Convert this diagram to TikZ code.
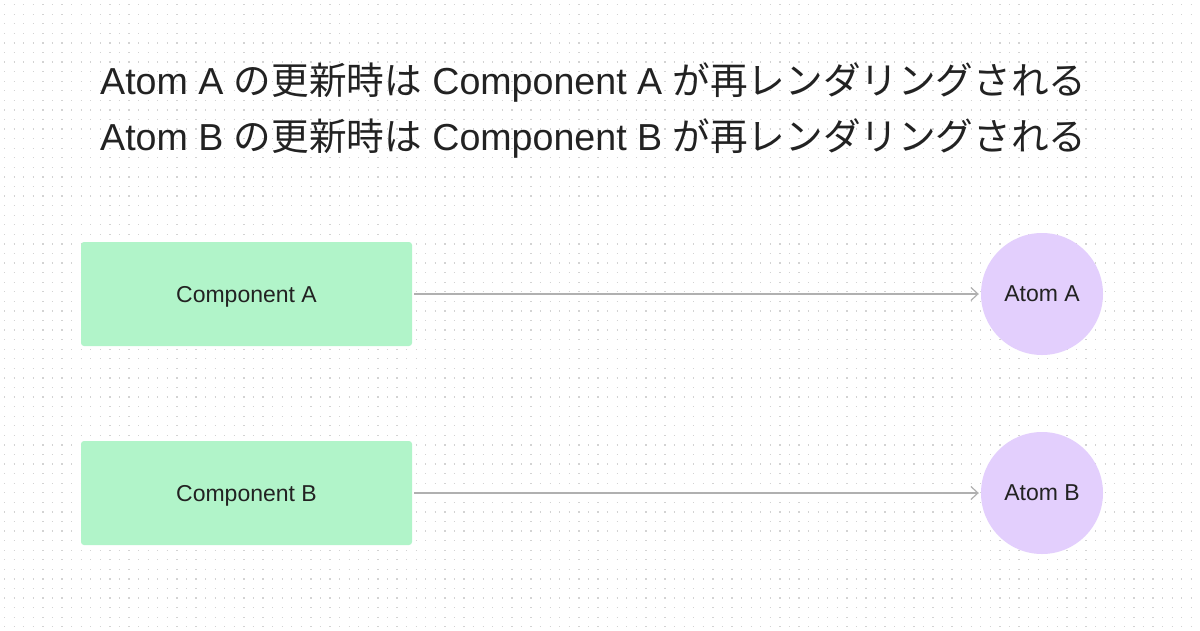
\documentclass[tikz,border=0pt]{standalone}
\usepackage{fontspec}
\setmainfont{Liberation Sans}
\newfontfamily\jp{Noto Sans CJK JP}
\usetikzlibrary{arrows.meta}
\definecolor{gridgray}{HTML}{D3D3D3}
\definecolor{mint}{HTML}{B1F4C9}
\definecolor{lilac}{HTML}{E3CFFD}
\definecolor{edgegray}{HTML}{B0B0B0}
\definecolor{ink}{HTML}{222222}
\tikzset{
  compbox/.style={rectangle, fill=mint, rounded corners=3pt, minimum width=331pt, minimum height=104pt, inner sep=0pt, text=ink, text depth=0pt, font=\fontsize{23}{23}\selectfont},
  atomnode/.style={circle, fill=lilac, minimum size=122pt, inner sep=0pt, text=ink, text depth=0pt, font=\fontsize{23}{23}\selectfont},
  link/.style={draw=edgegray, line width=1.2pt, shorten <=2pt, shorten >=2pt, -{Straight Barb[length=7pt,width=13pt]}},
  title/.style={anchor=base west, inner sep=0pt, text=ink, font=\fontsize{37.6}{37.6}\selectfont},
  dotrow/.style={draw=gridgray, line width=1.3pt, dash pattern=on 1.3pt off 8.27pt}
}
\begin{document}
\begin{tikzpicture}[x=1pt,y=-1pt]
\useasboundingbox (0,0) rectangle (1200,630);
\fill[white] (0,0) rectangle (1200,630);
\foreach \j in {0,...,65}{
  \draw[dotrow] (4.05,{4.7+9.57*\j}) -- (1200,{4.7+9.57*\j});
}
\node[title] (t1) at (100,94) {Atom A {\jp の更新時は} Component A {\jp が再レンダリングされる}};
\node[title] (t2) at (100,150) {Atom B {\jp の更新時は} Component B {\jp が再レンダリングされる}};
\node[compbox] (ca) at (246.5,294) {Component A};
\node[compbox] (cb) at (246.5,493) {Component B};
\node[atomnode] (aa) at (1042,294) {Atom A};
\node[atomnode] (ab) at (1042,493) {Atom B};
\draw[link] (ca) -- (aa);
\draw[link] (cb) -- (ab);
\end{tikzpicture}
\end{document}
